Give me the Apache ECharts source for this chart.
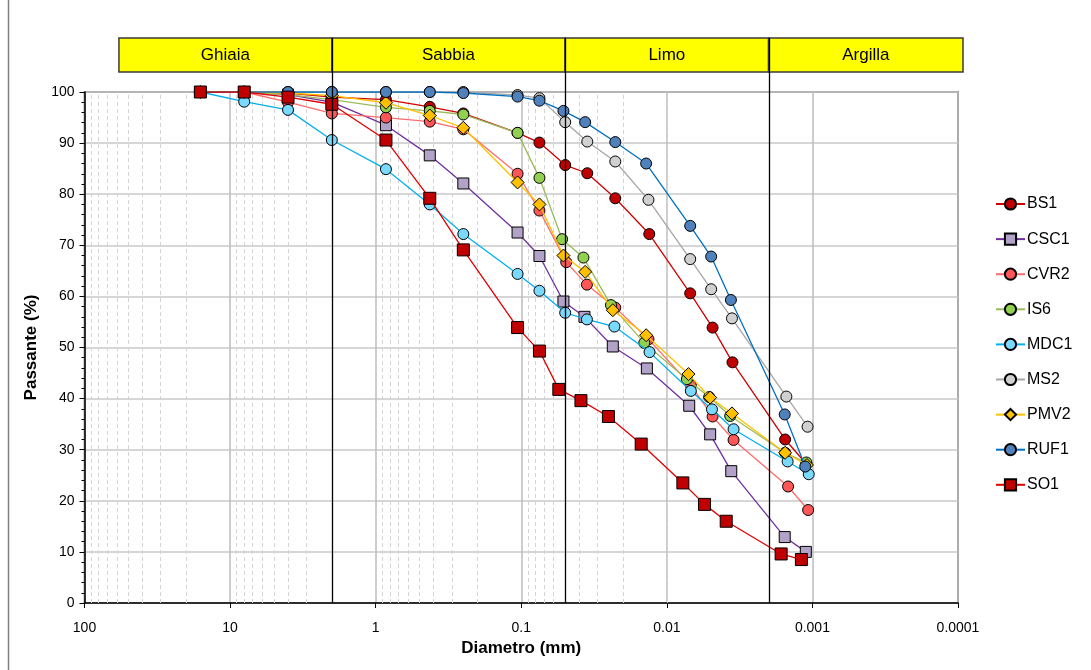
<!DOCTYPE html>
<html>
<head>
<meta charset="utf-8">
<script src="https://cdn.jsdelivr.net/npm/echarts@6/dist/echarts.min.js"></script>
<style>
html,body{margin:0;padding:0;background:#fff;}
#c{width:1091px;height:670px;}
</style>
</head>
<body>
<div id="c"></div>
<script>
// ---- data: [diameter (mm), passing (%)] ----
const BS1 = [[16,100],[8,100],[4,99.8],[2,99],[0.85,98.5],[0.425,97.1],[0.25,95.8],[0.106,92],[0.075,90.1],[0.0499,85.7],[0.0352,84.1],[0.0226,79.2],[0.0132,72.2],[0.00691,60.6],[0.00485,53.9],[0.00354,47.1],[0.00154,32.0],[0.0011,27.2]];
const CSC1 = [[16,100],[8,100],[4,99.5],[2,98],[0.85,93.5],[0.425,87.6],[0.25,82.1],[0.106,72.5],[0.075,67.9],[0.0513,59.0],[0.0368,56.0],[0.0235,50.2],[0.01371,45.9],[0.00702,38.6],[0.00504,33.0],[0.00361,25.8],[0.00155,12.9],[0.00111,10.0]];
const CVR2 = [[16,100],[8,100],[4,98],[2,95.8],[0.85,95.0],[0.425,94.2],[0.25,92.7],[0.106,84.0],[0.075,76.8],[0.0491,66.7],[0.0354,62.3],[0.0226,57.8],[0.01337,51.6],[0.00684,42.6],[0.00485,36.5],[0.00348,31.9],[0.00147,22.8],[0.00107,18.2]];
const IS6 = [[16,100],[8,100],[4,99.5],[2,98.5],[0.85,97.0],[0.425,96.3],[0.25,95.6],[0.106,92.0],[0.075,83.2],[0.0524,71.2],[0.0374,67.6],[0.0242,58.3],[0.01429,50.9],[0.00728,43.8],[0.00512,40.3],[0.00367,36.6],[0.00154,29.4],[0.0011,27.5]];
const MDC1 = [[16,100],[8,98.1],[4,96.5],[2,90.6],[0.85,84.9],[0.425,78.0],[0.25,72.2],[0.106,64.4],[0.075,61.1],[0.0499,56.8],[0.0354,55.5],[0.0229,54.1],[0.01315,49.1],[0.00684,41.5],[0.0049,37.9],[0.00348,34.0],[0.00148,27.7],[0.00106,25.2]];
const MS2 = [[16,100],[8,100],[4,100],[2,100],[0.85,100],[0.425,100],[0.25,100],[0.106,99.4],[0.075,98.8],[0.0499,94.1],[0.0352,90.3],[0.0226,86.4],[0.01337,78.9],[0.00691,67.3],[0.00496,61.4],[0.00357,55.7],[0.00151,40.4],[0.00108,34.5]];
const PMV2 = [[16,100],[8,100],[4,99.8],[2,99.3],[0.85,97.9],[0.425,95.4],[0.25,93.0],[0.106,82.3],[0.075,78.0],[0.0513,68.0],[0.0364,64.8],[0.0235,57.3],[0.01387,52.4],[0.0071,44.8],[0.00504,40.2],[0.00357,37.1],[0.00154,29.4],[0.00109,27.0]];
const RUF1 = [[16,100],[8,100],[4,100],[2,100],[0.85,100],[0.425,100],[0.25,99.8],[0.106,99.1],[0.075,98.3],[0.0513,96.3],[0.0364,94.1],[0.0226,90.2],[0.01387,86.0],[0.00691,73.8],[0.00496,67.8],[0.00363,59.3],[0.00155,36.9],[0.00112,26.7]];
const SO1 = [[16,100],[8,100],[4,99.0],[2,97.6],[0.85,90.6],[0.425,79.2],[0.25,69.1],[0.106,53.9],[0.075,49.3],[0.0552,41.8],[0.0389,39.6],[0.0252,36.5],[0.0150,31.1],[0.00776,23.5],[0.00551,19.3],[0.00391,16.0],[0.00164,9.6],[0.00119,8.5]];

const seriesNames = ['BS1','CSC1','CVR2','IS6','MDC1','MS2','PMV2','RUF1','SO1'];
const seriesData = [BS1, CSC1, CVR2, IS6, MDC1, MS2, PMV2, RUF1, SO1];

// axis tick labels
const xTickValues = [100, 10, 1, 0.1, 0.01, 0.001, 0.0001];
const xTickLabels = ['100','10','1','0.1','0.01','0.001','0.0001'];
const yTickLabels = ['0','10','20','30','40','50','60','70','80','90','100'];

// grain-size classes (boundaries in mm)
const classNames = ['Ghiaia','Sabbia','Limo','Argilla'];
const classBounds = [58, 2, 0.05, 0.002, 0.0000924];

// ---- styles ----
const styles = {
  BS1:  {symbol:'circle', fill:'#C00000', line:'#D00000', size:11},
  CSC1: {symbol:'rect',   fill:'#B3A2C7', line:'#7030A0', size:11},
  CVR2: {symbol:'circle', fill:'#FF5757', line:'#FF6B6B', size:11},
  IS6:  {symbol:'circle', fill:'#92D050', line:'#9BBB59', size:11},
  MDC1: {symbol:'circle', fill:'#7AD9FF', line:'#00B0F0', size:11},
  MS2:  {symbol:'circle', fill:'#D0D0D0', line:'#A6A6A6', size:11},
  PMV2: {symbol:'diamond',fill:'#FFC000', line:'#FFC000', size:13},
  RUF1: {symbol:'circle', fill:'#4F81BD', line:'#0070C0', size:11},
  SO1:  {symbol:'rect',   fill:'#C00000', line:'#E00000', size:12}
};

const FONT = '"Liberation Sans", Arial, sans-serif';

// minor vertical grid lines (2..9 x 10^k)
const minorVals = [];
for (let k = -4; k <= 1; k++) {
  for (let m = 2; m <= 9; m++) minorVals.push(m * Math.pow(10, k));
}

const chart = echarts.init(document.getElementById('c'), null, {renderer:'canvas'});

const series = seriesNames.map((n, i) => ({
  name: n,
  type: 'line',
  data: seriesData[i],
  symbol: styles[n].symbol,
  symbolSize: styles[n].size,
  z: 10 + i,
  lineStyle: {color: styles[n].line, width: 1.3},
  itemStyle: {color: styles[n].fill, borderColor: '#000', borderWidth: 1},
  emphasis: {disabled: true},
  animation: false
}));

series.push({
  name: '_minor',
  type: 'line',
  data: [],
  silent: true,
  z: 1,
  markLine: {
    silent: true,
    symbol: ['none','none'],
    label: {show: false},
    animation: false,
    lineStyle: {color: '#D4D4D4', type: [4, 3], width: 1},
    data: minorVals.map(v => ({xAxis: v}))
  }
});

chart.setOption({
  animation: false,
  backgroundColor: '#fff',
  textStyle: {fontFamily: FONT},
  grid: {left: 84.5, right: 133, top: 92, bottom: 67, show: true, borderColor: '#505050', borderWidth: 1.5, backgroundColor: 'transparent'},
  legend: {
    data: seriesNames,
    orient: 'vertical',
    left: 995,
    top: 196,
    padding: 0,
    itemWidth: 29,
    itemHeight: 14,
    itemGap: 19.1,
    textStyle: {fontSize: 16, color: '#000', fontFamily: FONT, padding: [0,0,0,-3]}
  },
  xAxis: {
    type: 'log',
    logBase: 10,
    min: 0.0001,
    max: 100,
    inverse: true,
    name: 'Diametro (mm)',
    nameLocation: 'middle',
    nameGap: 34,
    nameTextStyle: {fontSize: 17, fontWeight: 'bold', color: '#000', fontFamily: FONT},
    axisLine: {show: true, lineStyle: {color: '#000', width: 1.5}},
    axisTick: {show: true, inside: false, length: 5, lineStyle: {color: '#000'}},
    axisLabel: {
      fontSize: 14, color: '#000', margin: 18, fontFamily: FONT,
      formatter: function (v) {
        let best = 0, bd = 1e9;
        xTickValues.forEach((t, i) => { const d = Math.abs(Math.log10(t) - Math.log10(v)); if (d < bd) { bd = d; best = i; } });
        return xTickLabels[best];
      }
    },
    splitLine: {show: true, lineStyle: {color: '#BDBDBD', width: 1.5}},
    minorTick: {show: false},
    minorSplitLine: {show: false}
  },
  yAxis: {
    type: 'value',
    min: 0,
    max: 100,
    interval: 10,
    name: 'Passante (%)',
    nameLocation: 'middle',
    nameRotate: 90,
    nameGap: 38,
    nameTextStyle: {fontSize: 17, fontWeight: 'bold', color: '#000', fontFamily: FONT},
    axisLine: {show: true, lineStyle: {color: '#000', width: 1.5}},
    axisTick: {show: true, length: 5, lineStyle: {color: '#000'}},
    minorTick: {show: true, splitNumber: 5, length: 3, lineStyle: {color: '#000'}},
    axisLabel: {fontSize: 14, color: '#000', margin: 10, fontFamily: FONT,
      formatter: v => yTickLabels[Math.round(v / 10)]},
    splitLine: {show: true, lineStyle: {color: '#C8C8C8', width: 1.5}}
  },
  series: series
});

// grain-size class header boxes and boundary lines
const px = v => chart.convertToPixel({xAxisIndex: 0}, v);
const yTop = 38, yBox = 72, yBottom = chart.convertToPixel({yAxisIndex: 0}, 0);
const graphics = [];
for (let i = 0; i < classNames.length; i++) {
  const x1 = px(classBounds[i]), x2 = px(classBounds[i + 1]);
  graphics.push({
    type: 'rect', z: 50,
    shape: {x: x1, y: yTop, width: x2 - x1, height: yBox - yTop},
    style: {fill: '#FFFF00', stroke: '#3a3a3a', lineWidth: 1.5}
  });
  graphics.push({
    type: 'text', z: 51,
    x: (x1 + x2) / 2, y: (yTop + yBox) / 2,
    style: {text: classNames[i], fill: '#000', font: '17px ' + FONT, align: 'center', verticalAlign: 'middle'}
  });
}
for (let i = 1; i <= 3; i++) {
  const x = Math.round(px(classBounds[i])) + 0.5;
  graphics.push({
    type: 'line', z: 52,
    shape: {x1: x, y1: yTop, x2: x, y2: yBottom},
    style: {stroke: '#000', lineWidth: 1.3}
  });
}
// chart area border (left edge visible)
graphics.push({type: 'line', z: 1, shape: {x1: 8.5, y1: 0, x2: 8.5, y2: 670}, style: {stroke: '#808080', lineWidth: 1.5}});
chart.setOption({graphic: graphics});
</script>
</body>
</html>
